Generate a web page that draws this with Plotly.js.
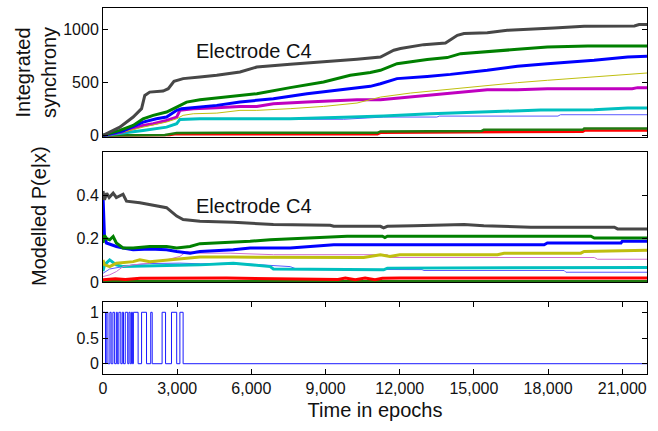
<!DOCTYPE html>
<html>
<head>
<meta charset="utf-8">
<script src="https://cdn.plot.ly/plotly-3.0.1.min.js"></script>
<style>html,body{margin:0;padding:0;background:#fff}#chart{width:658px;height:431px}</style>
</head>
<body>
<div id="chart"></div>
<script>
// ---------- Data ----------
const xTickVals = [0, 3000, 6000, 9000, 12000, 15000, 18000, 21000];
const panelLabel = "Electrode C4";

// Top panel: integrated synchrony
const topGrayX = [0,680,1220,1560,1690,1890,2430,2640,2870,3240,3920,4600,5540,6220,7570,8920,10270,11220,11760,12030,12970,13850,14330,14600,15540,16350,17430,18240,19460,21490,21680,22000];
const topGrayY = [0,78,173,252,377,408,418,440,509,535,550,566,597,644,670,691,718,738,802,818,855,870,943,959,968,990,1000,1012,1028,1031,1044,1044];
const topGreenX = [0,680,1220,1620,2030,2570,2980,3380,3920,4600,5410,6220,7570,8920,10000,10810,11220,11890,13110,13920,14460,15540,16760,17970,19610,22000];
const topGreenY = [0,47,94,157,189,220,267,314,336,352,377,393,450,503,566,592,613,676,714,733,770,792,811,833,842,842];
const topBlueX = [0,800,1620,2160,2570,2980,3180,3920,4600,5540,6890,8250,9600,10810,11220,11890,13110,14050,15540,16760,17970,19860,21220,22000];
const topBlueY = [0,40,125,157,173,236,252,267,283,315,346,393,431,462,487,535,556,575,613,651,676,707,738,745];
const topMagentaX = [0,800,1620,2030,2570,2980,3110,3650,4600,5540,6220,6890,8250,9600,10270,11220,12430,13110,14460,15540,16760,17970,21400,21620,22000];
const topMagentaY = [0,35,94,110,141,173,236,252,261,273,273,299,314,330,336,336,361,377,408,431,431,440,440,450,450];
const topYellowX = [0,800,1620,2570,2980,3240,3650,4600,5540,6220,7570,8920,10270,11220,12430,13780,15540,16760,17970,19860,22000];
const topYellowY = [0,30,78,126,157,189,204,210,236,236,252,273,305,361,399,431,471,497,519,550,588];
const topCyanX = [0,800,1620,2570,2980,3110,3920,5540,7570,9730,11350,13250,15810,17700,19860,21220,22000];
const topCyanY = [0,20,47,78,110,151,157,157,157,170,182,204,226,239,242,258,258];
const topLightBlueX = [0,800,1620,2570,2980,3110,3920,5540,9730,11350,13500,13600,18400,18500,22000];
const topLightBlueY = [0,18,45,75,105,148,152,152,152,173,173,182,182,195,195];
const topDarkGreenX = [0,2500,2980,5140,11100,11220,15300,15400,19400,19460,22000];
const topDarkGreenY = [0,5,22,25,25,38,41,53,53,66,66];
const topRedX = [0,2700,2900,11100,11220,15400,19400,19500,22000];
const topRedY = [0,3,12,12,25,31,35,47,47];

// Middle panel: modelled P(e|x)
const midGrayX = [0,60,150,250,410,540,810,950,1490,1890,2570,2980,3240,3920,5270,6890,7570,7840,9190,9330,11220,11350,11500,12570,14600,15400,17300,20680,20810,22000];
const midGrayY = [0.42,0.38,0.41,0.39,0.41,0.39,0.405,0.373,0.366,0.358,0.343,0.304,0.288,0.28,0.276,0.265,0.265,0.262,0.262,0.257,0.257,0.25,0.257,0.26,0.265,0.26,0.253,0.253,0.245,0.245];
const midGreenX = [0,60,150,270,410,540,810,1220,1890,2570,2980,3520,3920,4600,5270,5950,6760,7710,9870,11300,11400,11500,14600,19730,19870,22000];
const midGreenY = [0.18,0.215,0.2,0.195,0.21,0.18,0.157,0.157,0.164,0.164,0.157,0.164,0.177,0.18,0.183,0.188,0.195,0.2,0.211,0.211,0.205,0.211,0.211,0.211,0.203,0.203];
const midBlueX = [0,30,60,140,540,810,1220,1890,2570,2980,3520,3920,5270,5950,7570,9330,17840,17970,20950,21000,22000];
const midBlueY = [0.4,0.26,0.21,0.18,0.164,0.157,0.149,0.152,0.149,0.141,0.133,0.141,0.149,0.157,0.157,0.172,0.172,0.18,0.18,0.188,0.188];
const midYellowX = [0,60,270,540,1220,1490,1890,2570,3240,3920,5270,10540,11220,11600,12000,15950,16220,19320,19460,21890,22000];
const midYellowY = [0.102,0.08,0.071,0.087,0.094,0.102,0.094,0.102,0.11,0.115,0.115,0.113,0.126,0.118,0.126,0.126,0.133,0.133,0.141,0.146,0.146];
const midPinkX = [0,270,540,810,1220,1890,2570,3110,3380,3920,5140,6890,11500,11620,19870,20000,22000];
const midPinkY = [0.025,0.033,0.048,0.071,0.079,0.087,0.102,0.118,0.141,0.133,0.133,0.126,0.126,0.113,0.113,0.105,0.105];
const midCyanX = [0,60,270,540,810,3920,5270,6760,6890,11350,11500,22000];
const midCyanY = [0.05,0.079,0.102,0.079,0.071,0.079,0.087,0.071,0.06,0.056,0.064,0.067];
const midLightBlueX = [0,270,810,1220,1890,3110,3920,5270,7570,7840,12900,12980,18650,18720,22000];
const midLightBlueY = [0.04,0.06,0.071,0.079,0.085,0.087,0.084,0.087,0.071,0.059,0.057,0.053,0.053,0.045,0.045];
const midRedX = [0,500,900,1500,5000,9500,9800,10200,10600,11000,11300,12000,22000];
const midRedY = [0.01,0.015,0.012,0.017,0.018,0.012,0.018,0.01,0.018,0.01,0.017,0.018,0.018];
const midDarkGreenX = [0,22000];
const midDarkGreenY = [0.004,0.004];

// Bottom panel: on/off intervals (epochs where signal = 1)
const pulseStarts = [0,130,280,400,540,640,780,900,1050,1150,1230,1560,1930,2390,2770,3110];
const pulseEnds   = [100,200,330,470,580,720,830,1000,1100,1190,1420,1760,1990,2530,2980,3240];
const lastEpoch = 22000;

// ---------- Build traces ----------
function ln(x, y, color, width, xa, ya, shape) {
  return {x: x, y: y, type: 'scatter', mode: 'lines', xaxis: xa, yaxis: ya,
          line: {color: color, width: width, shape: shape || 'linear'}, hoverinfo: 'skip', showlegend: false};
}
const C = {gray:'#474747', green:'#008000', blue:'#0000ff', yellow:'#bfbf10', magenta:'#c000c0',
           cyan:'#00bfbf', lblue:'#5a5aff', red:'#ff0000', dgreen:'#207a10', pink:'#d070d0'};

const traces = [
  ln(topRedX, topRedY, C.red, 2.5, 'x2', 'y2'),
  ln(topDarkGreenX, topDarkGreenY, C.dgreen, 2.5, 'x2', 'y2'),
  ln(topLightBlueX, topLightBlueY, C.lblue, 1, 'x2', 'y2'),
  ln(topCyanX, topCyanY, C.cyan, 3, 'x2', 'y2'),
  ln(topMagentaX, topMagentaY, C.magenta, 3, 'x2', 'y2'),
  ln(topYellowX, topYellowY, C.yellow, 1, 'x2', 'y2'),
  ln(topBlueX, topBlueY, C.blue, 3, 'x2', 'y2'),
  ln(topGreenX, topGreenY, C.green, 3, 'x2', 'y2'),
  ln(topGrayX, topGrayY, C.gray, 3, 'x2', 'y2'),

  ln(midDarkGreenX, midDarkGreenY, C.dgreen, 2, 'x3', 'y3'),
  ln(midRedX, midRedY, C.red, 3, 'x3', 'y3'),
  ln(midLightBlueX, midLightBlueY, C.lblue, 1, 'x3', 'y3'),
  ln(midCyanX, midCyanY, C.cyan, 3, 'x3', 'y3'),
  ln(midPinkX, midPinkY, C.pink, 1, 'x3', 'y3'),
  ln(midYellowX, midYellowY, C.yellow, 3, 'x3', 'y3'),
  ln(midBlueX, midBlueY, C.blue, 3, 'x3', 'y3'),
  ln(midGreenX, midGreenY, C.green, 3, 'x3', 'y3'),
  ln(midGrayX, midGrayY, C.gray, 3, 'x3', 'y3')
];

const stepX = [], stepY = [];
for (let i = 0; i < pulseStarts.length; i++) {
  stepX.push(pulseStarts[i]); stepY.push(1);
  stepX.push(pulseEnds[i]); stepY.push(0);
}
stepX.push(lastEpoch); stepY.push(0);
traces.push(ln(stepX, stepY, '#1a1aff', 1, 'x', 'y', 'hv'));

// ---------- Layout ----------
const F = 'Liberation Sans, Arial, Helvetica, sans-serif';
const TF = {size: 20, family: F, color: '#111'};
const boxAxis = {showline: true, linecolor: '#000', linewidth: 1, mirror: true, zeroline: false, showgrid: false};
const noTickX = Object.assign({}, boxAxis, {range: [0, 22000], ticks: '', showticklabels: false});

const layout = {
  width: 658, height: 431,
  margin: {l: 103, r: 11, t: 8, b: 57},
  paper_bgcolor: '#fff', plot_bgcolor: '#fff',
  font: {family: F, size: 16, color: '#111'},
  showlegend: false,
  xaxis: Object.assign({}, boxAxis, {anchor: 'y', domain: [0, 1], range: [0, 22000], ticks: 'inside', ticklen: 5,
    tickcolor: '#000', mirror: 'ticks', tickvals: xTickVals, tickformat: ',d',
    title: {text: 'Time in epochs', font: TF, standoff: 6}}),
  yaxis: Object.assign({}, boxAxis, {anchor: 'x', domain: [0, 0.1967], range: [-0.2, 1.2], ticks: 'inside', ticklen: 5,
    tickcolor: '#000', mirror: 'ticks', tickvals: [0, 0.5, 1], ticktext: ['0', '0.5', '1']}),
  xaxis2: Object.assign({}, noTickX, {anchor: 'y2', domain: [0, 1]}),
  yaxis2: Object.assign({}, boxAxis, {anchor: 'x2', domain: [0.6475, 1], range: [-15, 1200], ticks: 'inside', ticklen: 5,
    tickcolor: '#000', mirror: 'ticks', tickvals: [0, 500, 1000]}),
  xaxis3: Object.assign({}, noTickX, {anchor: 'y3', domain: [0, 1]}),
  yaxis3: Object.assign({}, boxAxis, {anchor: 'x3', domain: [0.2514, 0.6066], range: [0, 0.6], ticks: 'inside', ticklen: 5,
    tickcolor: '#000', mirror: 'ticks', tickvals: [0, 0.2, 0.4], ticktext: ['0', '0.2', '0.4']}),
  annotations: [
    {text: 'Integrated<br>synchrony', xref: 'paper', yref: 'paper', x: -0.1232, y: 0.825,
     xanchor: 'center', yanchor: 'middle', textangle: -90, showarrow: false, font: TF},
    {text: 'Modelled P(e|x)', xref: 'paper', yref: 'paper', x: -0.1176, y: 0.4317,
     xanchor: 'center', yanchor: 'middle', textangle: -90, showarrow: false, font: TF},
    {text: panelLabel, xref: 'x2', yref: 'y2', x: 3700, y: 792, xanchor: 'left', yanchor: 'middle',
     showarrow: false, font: TF},
    {text: panelLabel, xref: 'x3', yref: 'y3', x: 3700, y: 0.353, xanchor: 'left', yanchor: 'middle',
     showarrow: false, font: TF}
  ]
};

Plotly.newPlot('chart', traces, layout, {staticPlot: true, displayModeBar: false});
</script>
</body>
</html>
